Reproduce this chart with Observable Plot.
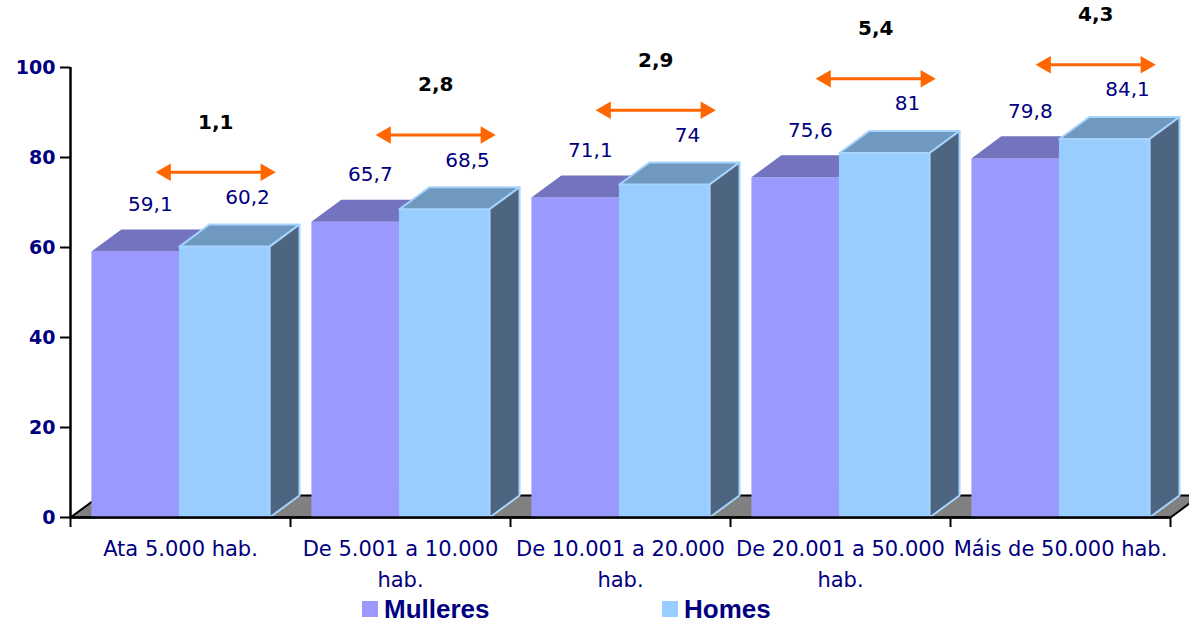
<!DOCTYPE html>
<html><head><meta charset="utf-8">
<script src="https://cdn.jsdelivr.net/npm/d3@7"></script>
<script src="https://cdn.jsdelivr.net/npm/@observablehq/plot@0.6"></script>
<style>
body{margin:0;background:#fff;}
#chart{width:1189px;height:623px;overflow:hidden;}
.legend{display:flex;align-items:center;height:28px;font-family:"Liberation Sans",Arial,sans-serif;font-weight:bold;font-size:26px;color:#000080;}
.item{display:flex;align-items:center;position:absolute;}
.sw{width:16px;height:16px;display:inline-block;margin-right:6px;}
</style></head><body><div id="chart"></div>
<script>
// ---- data ----
const categories = ["Ata 5.000 hab.", "De 5.001 a 10.000\nhab.", "De 10.001 a 20.000\nhab.", "De 20.001 a 50.000\nhab.", "Máis de 50.000 hab."];
const mulleres = [59.1, 65.7, 71.1, 75.6, 79.8];
const homes = [60.2, 68.5, 74, 81, 84.1];
const diferenzas = [1.1, 2.8, 2.9, 5.4, 4.3];
const yTicks = [0, 20, 40, 60, 80, 100];
const seriesNames = ["Mulleres", "Homes"];

// ---- styling / geometry ----
const C = {
  mFront: "#9999ff", mTop: "#7373bf",
  hFront: "#99ccff", hTop: "#7099bf", hSide: "#4d6580", hEdge: "#a6d4ff",
  floor: "#808080", navy: "#000080", orange: "#ff6600"
};
const DX = 0.136;   // 3D depth in band units
const DV = 4.9;     // 3D depth in value units
const n = categories.length;
const fmt = v => String(v).replace(".", ",");

function poly(id, pts) {
  const c = pts.concat([pts[0]]);
  return c.map(([x, y]) => ({id, x, y}));
}
const mFront = [], mTop = [], hFront = [], hTop = [], hSide = [];
for (let i = 0; i < n; i++) {
  const m0 = i + 0.095, m1 = i + 0.495, h0 = i + 0.495, h1 = i + 0.905;
  const mv = mulleres[i], hv = homes[i];
  mFront.push(...poly(i, [[m0, 0], [m1, 0], [m1, mv], [m0, mv]]));
  mTop.push(...poly(i, [[m0, mv], [m1, mv], [m1 + DX, mv + DV], [m0 + DX, mv + DV]]));
  hFront.push(...poly(i, [[h0, 0], [h1, 0], [h1, hv], [h0, hv]]));
  hTop.push(...poly(i, [[h0, hv], [h1, hv], [h1 + DX, hv + DV], [h0 + DX, hv + DV]]));
  hSide.push(...poly(i, [[h1, 0], [h1 + DX, DV], [h1 + DX, hv + DV], [h1, hv]]));
}
const floor = poly("f", [[0, 0], [DX, DV], [n + DX, DV], [n, 0]]);

const idx = d3.range(n);
const arrowC = i => i + 0.66, arrowH = 0.268, arrowUp = 16.5;

const chart = Plot.plot({
  width: 1189, height: 595,
  marginLeft: 70, marginRight: 19, marginTop: 67, marginBottom: 78,
  style: {fontFamily: "DejaVu Sans", background: "#fff", overflow: "visible"},
  x: {domain: [0, n], axis: null},
  y: {domain: [0, 100], axis: null},
  marks: [
    Plot.line(floor, {x: "x", y: "y", fill: C.floor, stroke: "black", strokeWidth: 2}),
    Plot.line(mFront, {x: "x", y: "y", z: "id", fill: C.mFront, stroke: "none"}),
    Plot.line(mTop, {x: "x", y: "y", z: "id", fill: C.mTop, stroke: "none"}),
    Plot.line(hFront, {x: "x", y: "y", z: "id", fill: C.hFront, stroke: C.hFront, strokeWidth: 1}),
    Plot.line(hTop, {x: "x", y: "y", z: "id", fill: C.hTop, stroke: C.hEdge, strokeWidth: 2}),
    Plot.line(hSide, {x: "x", y: "y", z: "id", fill: C.hSide, stroke: C.hEdge, strokeWidth: 2}),
    Plot.ruleY([0], {x1: 0, x2: n, stroke: "black", strokeWidth: 2.5}),
    Plot.ruleX([0], {y1: 0, y2: 100, stroke: "black", strokeWidth: 2.5}),
    Plot.axisY(yTicks, {label: null, tickSize: 10, tickPadding: 5, fontSize: 19, fontWeight: "bold", fill: C.navy, stroke: "black", strokeWidth: 2}),
    Plot.axisX(d3.range(n + 1), {label: null, tickSize: 10, tickFormat: () => "", stroke: "black", strokeWidth: 2}),
    Plot.text(categories, {x: (d, i) => i + 0.5, y: () => 0, text: d => d, dy: 16, lineAnchor: "top", lineHeight: 1.48, fontSize: 21, fill: C.navy}),
    // value labels
    Plot.text(idx, {x: i => i + 0.295 + DX / 2, y: i => mulleres[i], text: i => fmt(mulleres[i]), dy: -47, fontSize: 20, fill: C.navy}),
    Plot.text(idx, {x: i => i + 0.7 + DX / 2, y: i => homes[i], text: i => fmt(homes[i]), dy: -49, dx: 8, fontSize: 20, fill: C.navy}),
    // difference arrows
    Plot.link(idx, {x1: i => arrowC(i) - arrowH + 0.03, x2: i => arrowC(i) + arrowH - 0.03, y1: i => homes[i] + arrowUp, y2: i => homes[i] + arrowUp, stroke: C.orange, strokeWidth: 3}),
    Plot.dot(idx, {x: i => arrowC(i) + arrowH, y: i => homes[i] + arrowUp, symbol: "triangle", r: 6.5, rotate: 90, dx: -9, fill: C.orange, stroke: "none"}),
    Plot.dot(idx, {x: i => arrowC(i) - arrowH, y: i => homes[i] + arrowUp, symbol: "triangle", r: 6.5, rotate: -90, dx: 9, fill: C.orange, stroke: "none"}),
    Plot.text(idx, {x: i => arrowC(i), y: i => homes[i] + arrowUp, text: i => fmt(diferenzas[i]), dy: -50, fontSize: 20, fontWeight: "bold", fill: "black"})
  ]
});

const root = document.getElementById("chart");
root.appendChild(chart);
const legend = document.createElement("div");
legend.className = "legend";
legend.style.position = "relative";
const swColors = [C.mFront, C.hFront];
const lefts = [362, 662];
seriesNames.forEach((s, k) => {
  const it = document.createElement("div");
  it.className = "item";
  it.style.left = lefts[k] + "px";
  it.innerHTML = `<span class="sw" style="background:${swColors[k]}"></span><span>${s}</span>`;
  legend.appendChild(it);
});
root.appendChild(legend);
</script>
</body></html>
